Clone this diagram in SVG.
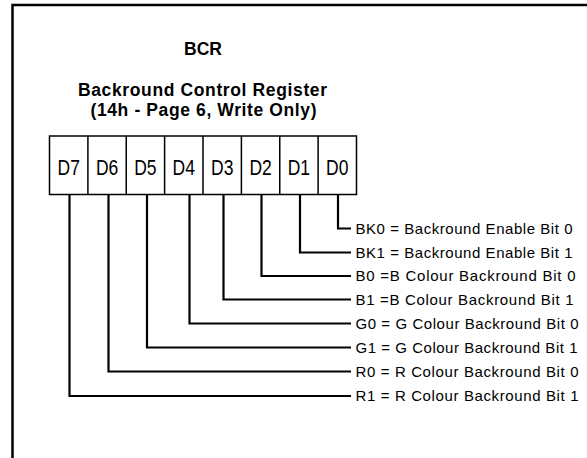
<svg xmlns="http://www.w3.org/2000/svg" width="587" height="458" viewBox="0 0 587 458">
<style>
.frame{fill:none;stroke:#000;stroke-width:2.5}
.box{fill:#fff;stroke:#000;stroke-width:1.5}
.conn{fill:none;stroke:#000;stroke-width:2.2;stroke-linejoin:miter}
.title{font-family:"Liberation Sans",Arial,sans-serif;font-weight:bold;font-size:17.5px;text-anchor:middle;fill:#000}
.bit{font-family:"Liberation Sans",Arial,sans-serif;font-size:17.5px;text-anchor:middle;fill:#000}
.lbl{font-family:"Liberation Sans",Arial,sans-serif;font-size:15px;fill:#000}
</style>
<rect width="587" height="458" fill="#fff"/>
<path class="frame" d="M12.5,458 V5 H587"/>
<g id="titles">
<text class="title" x="203" y="55">BCR</text>
<text class="title" x="202.5" y="95.5" textLength="249" lengthAdjust="spacing">Backround Control Register</text>
<text class="title" x="203.5" y="116" textLength="226" lengthAdjust="spacing">(14h - Page 6, Write Only)</text>
</g>
<g id="register">
<rect class="box" x="49.5" y="136" width="307" height="58.5"/>
<path class="box" d="M87.9,136V194.5M126.25,136V194.5M164.6,136V194.5M203,136V194.5M241.4,136V194.5M279.75,136V194.5M318.1,136V194.5"/>
<text class="bit" transform="translate(68.7,175) scale(1,1.22)">D7</text>
<text class="bit" transform="translate(107.1,175) scale(1,1.22)">D6</text>
<text class="bit" transform="translate(145.4,175) scale(1,1.22)">D5</text>
<text class="bit" transform="translate(183.8,175) scale(1,1.22)">D4</text>
<text class="bit" transform="translate(222.2,175) scale(1,1.22)">D3</text>
<text class="bit" transform="translate(260.6,175) scale(1,1.22)">D2</text>
<text class="bit" transform="translate(298.9,175) scale(1,1.22)">D1</text>
<text class="bit" transform="translate(337.3,175) scale(1,1.22)">D0</text>
</g>
<g id="connectors">
<polyline class="conn" points="338,194.5 338,228.5 351,228.5"/>
<polyline class="conn" points="300,194.5 300,252.5 351,252.5"/>
<polyline class="conn" points="261.5,194.5 261.5,276 351,276"/>
<polyline class="conn" points="223.5,194.5 223.5,299.5 351,299.5"/>
<polyline class="conn" points="189.5,194.5 189.5,323.5 351,323.5"/>
<polyline class="conn" points="147,194.5 147,347.5 351,347.5"/>
<polyline class="conn" points="108.5,194.5 108.5,371.5 351,371.5"/>
<polyline class="conn" points="69.5,194.5 69.5,396 351,396"/>
</g>
<g id="labels">
<text class="lbl" x="355.5" y="233.5" textLength="217" lengthAdjust="spacing">BK0 = Backround Enable Bit 0</text>
<text class="lbl" x="355.5" y="257.5" textLength="217" lengthAdjust="spacing">BK1 = Backround Enable Bit 1</text>
<text class="lbl" x="355.5" y="281" textLength="220" lengthAdjust="spacing">B0 =B Colour Backround Bit 0</text>
<text class="lbl" x="355.5" y="304.5" textLength="218" lengthAdjust="spacing">B1 =B Colour Backround Bit 1</text>
<text class="lbl" x="355.5" y="328.5" textLength="223" lengthAdjust="spacing">G0 = G Colour Backround Bit 0</text>
<text class="lbl" x="355.5" y="352.5" textLength="222" lengthAdjust="spacing">G1 = G Colour Backround Bit 1</text>
<text class="lbl" x="355.5" y="376.5" textLength="223" lengthAdjust="spacing">R0 = R Colour Backround Bit 0</text>
<text class="lbl" x="355.5" y="401" textLength="223" lengthAdjust="spacing">R1 = R Colour Backround Bit 1</text>
</g>
</svg>
